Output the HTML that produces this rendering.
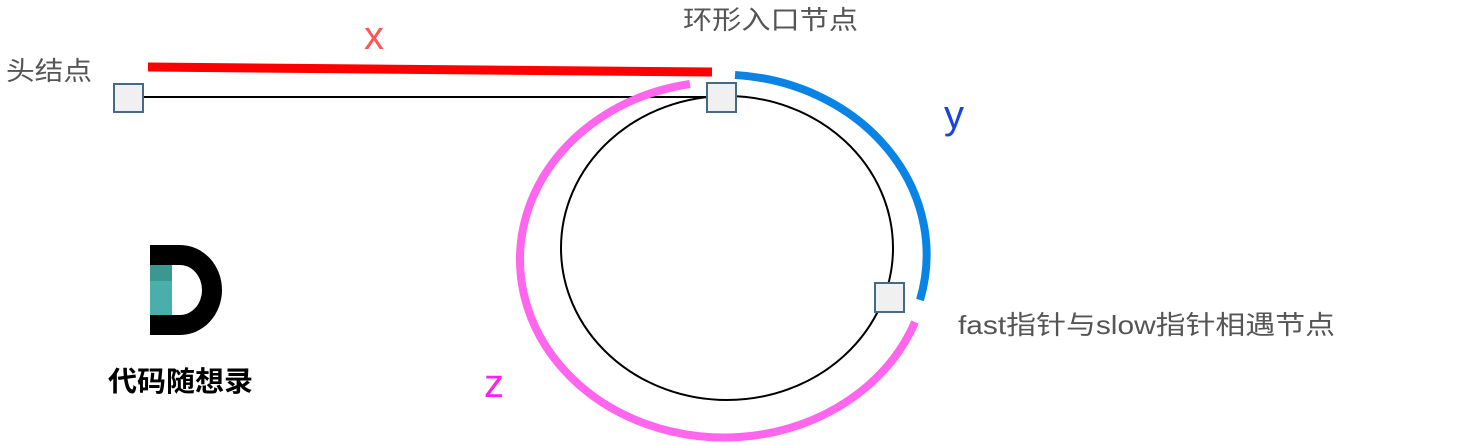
<!DOCTYPE html>
<html><head><meta charset="utf-8"><style>
html,body{margin:0;padding:0;background:#fff;}
svg{display:block;}
text{font-family:"Liberation Sans","Noto Sans CJK SC",sans-serif;}
</style></head><body>
<svg width="1460" height="445" viewBox="0 0 1460 445">
  <line x1="130" y1="97" x2="720" y2="97" stroke="#000" stroke-width="2"/>
  <ellipse cx="727" cy="248" rx="166" ry="152" fill="none" stroke="#000" stroke-width="2"/>
  <line x1="148" y1="67" x2="712" y2="72" stroke="#f00" stroke-width="9"/>
  <path d="M 735 75 A 205 180 0 0 1 920 300" fill="none" stroke="#0a84e4" stroke-width="8"/>
  <path d="M 690 84 A 204 178 0 1 0 915 322" fill="none" stroke="#ff66ee" stroke-width="8"/>
  <rect x="114" y="84" width="29" height="28" fill="#f0f0f0" stroke="#456a85" stroke-width="2"/>
  <rect x="707" y="83" width="29" height="29" fill="#f0f0f0" stroke="#456a85" stroke-width="2"/>
  <rect x="875" y="283" width="29" height="29" fill="#f0f0f0" stroke="#456a85" stroke-width="2"/>
  <text x="6" y="80" font-size="26" textLength="86" lengthAdjust="spacingAndGlyphs" fill="#555">头结点</text>
  <text x="364" y="49" font-size="40" fill="#f55">x</text>
  <text x="683" y="29" font-size="26" textLength="175" lengthAdjust="spacingAndGlyphs" fill="#555">环形入口节点</text>
  <text x="944" y="128" font-size="40" fill="#1a44dd">y</text>
  <text x="484" y="397" font-size="40" fill="#ff22ee">z</text>
  <text x="958" y="334" font-size="26" textLength="377" lengthAdjust="spacingAndGlyphs" fill="#555">fast指针与slow指针相遇节点</text>
  <g>
    <path d="M150 245 H180 A42 45 0 0 1 180 335 H150 Z M172 265 V315 H180 A22 25 0 0 0 180 265 Z" fill="#000" fill-rule="evenodd"/>
    <rect x="150" y="265" width="22" height="50" fill="#4aafaa"/>
    <rect x="150" y="265" width="22" height="16" fill="#3a9890"/>
    <text x="108" y="391" font-size="28" font-weight="bold" textLength="145" lengthAdjust="spacingAndGlyphs" fill="#000">代码随想录</text>
  </g>
</svg>
</body></html>
